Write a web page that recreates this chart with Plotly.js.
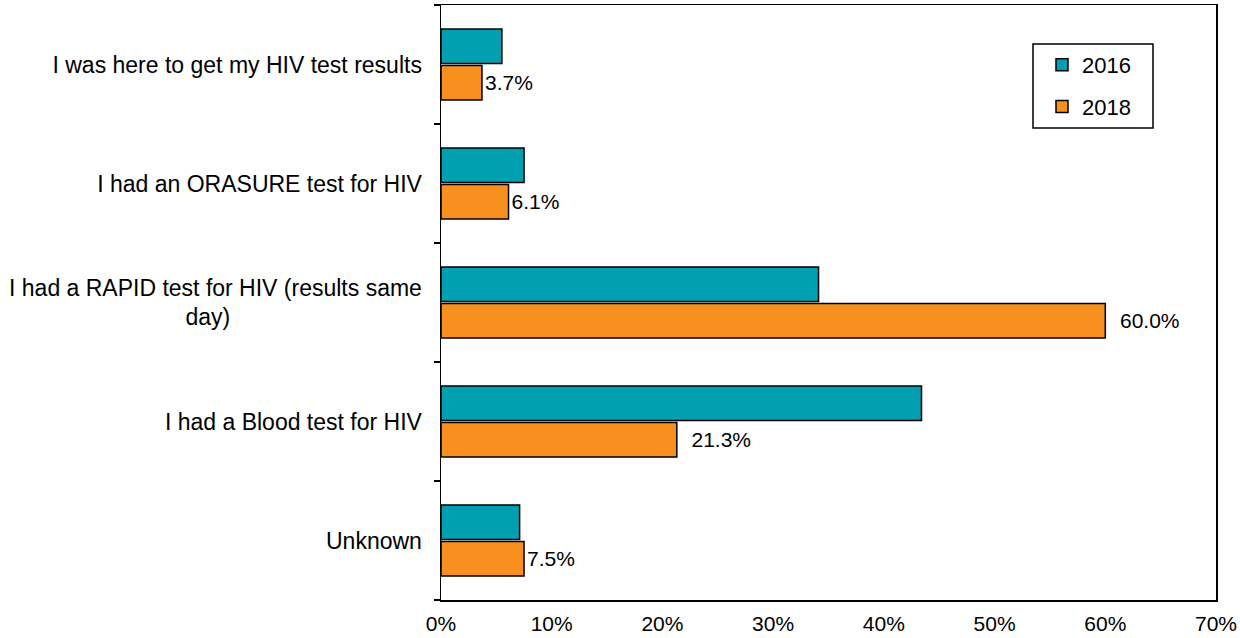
<!DOCTYPE html>
<html>
<head>
<meta charset="utf-8">
<script src="https://cdn.plot.ly/plotly-3.0.1.min.js"></script>
<style>html,body{margin:0;padding:0;background:#fff;}#chart{width:1240px;height:638px;}</style>
</head>
<body>
<div id="chart"></div>
<script>
const categories = [
  "I was here to get my HIV test results",
  "I had an ORASURE test for HIV",
  "I had a RAPID test for HIV (results same day)",
  "I had a Blood test for HIV",
  "Unknown"
];
const categoryLabels = [
  "I was here to get my HIV test results",
  "I had an ORASURE test for HIV",
  "I had a RAPID test for HIV (results same<br>day)" + "\u00a0".repeat(30),
  "I had a Blood test for HIV",
  "Unknown"
];
const values2016 = [5.5, 7.5, 34.1, 43.4, 7.1];
const values2018 = [3.7, 6.1, 60.0, 21.3, 7.5];
const xTickVals = [0, 10, 20, 30, 40, 50, 60, 70];
const xTickText = ["0%", "10%", "20%", "30%", "40%", "50%", "60%", "70%"];

const font = {family: "Liberation Sans, Arial, sans-serif", color: "#000"};

const traces = [
  {
    type: "bar", orientation: "h", name: "2016", legendgroup: "a",
    y: categories, x: values2016,
    marker: {color: "#00A0B0", line: {color: "#000", width: 1.5}}
  },
  {
    type: "bar", orientation: "h", name: "2018", legendgroup: "b",
    y: categories, x: values2018,
    marker: {color: "#F7901E", line: {color: "#000", width: 1.5}},
    texttemplate: values2018.map(v => (v > 15 ? "\u00a0\u00a0" : "") + "%{x:.1f}%"),
    textposition: "outside",
    textfont: Object.assign({}, font, {size: 21}),
    cliponaxis: false
  }
];

const plotL = 441, plotR = 1216, plotT = 5, plotB = 600;
const px2x = p => (p - plotL) / (plotR - plotL);
const px2y = p => (plotB - p) / (plotB - plotT);

const layout = {
  width: 1240, height: 638,
  margin: {l: plotL, r: 1240 - plotR, t: plotT, b: 638 - plotB, pad: 0},
  paper_bgcolor: "#fff", plot_bgcolor: "#fff",
  font: Object.assign({}, font, {size: 22}),
  barmode: "group", bargap: 0.39, bargroupgap: 0.05,
  showlegend: true,
  legend: {
    x: px2x(1042), y: px2y(44), xanchor: "left", yanchor: "top",
    borderwidth: 0, bgcolor: "rgba(0,0,0,0)",
    font: Object.assign({}, font, {size: 22}),
    traceorder: "grouped", tracegroupgap: 10, itemwidth: 30
  },
  shapes: [{
    type: "rect", xref: "paper", yref: "paper",
    x0: px2x(1033), x1: px2x(1153), y0: px2y(128), y1: px2y(44),
    line: {color: "#000", width: 1.5}, fillcolor: "rgba(0,0,0,0)", layer: "below"
  }],
  xaxis: {
    range: [0, 70], tickmode: "array", tickvals: xTickVals, ticktext: xTickText,
    showgrid: false, zeroline: false,
    showline: true, linecolor: "#000", linewidth: 1.5, mirror: true,
    ticks: "", ticklabelstandoff: 4,
    tickfont: Object.assign({}, font, {size: 21}),
    fixedrange: true
  },
  yaxis: {
    autorange: "reversed", type: "category",
    tickmode: "array", tickvals: categories, ticktext: categoryLabels,
    showgrid: false, zeroline: false,
    showline: true, linecolor: "#000", linewidth: 1.5, mirror: true,
    ticks: "outside", ticklen: 6, tickcolor: "#000", tickwidth: 1.5,
    tickson: "boundaries", ticklabelstandoff: 13,
    tickfont: Object.assign({}, font, {size: 23}),
    fixedrange: true
  }
};

Plotly.newPlot("chart", traces, layout, {displayModeBar: false, staticPlot: true});
</script>
</body>
</html>
